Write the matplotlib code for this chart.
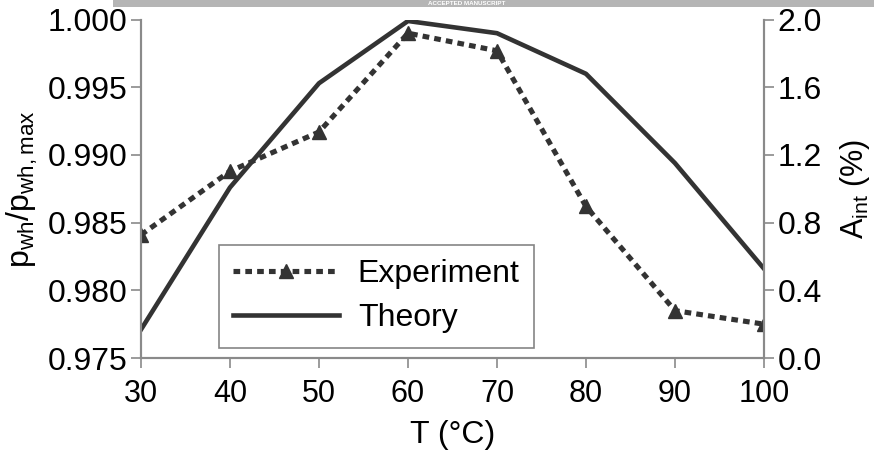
import matplotlib
matplotlib.use("Agg")
import matplotlib.pyplot as plt
from matplotlib.patches import Rectangle

plt.rcParams['font.family'] = ['Liberation Sans', 'DejaVu Sans']
plt.rcParams['mathtext.fontset'] = 'custom'
plt.rcParams['mathtext.rm'] = 'Liberation Sans'

temperature = [30, 40, 50, 60, 70, 80, 90, 100]
experiment = [0.9841, 0.9888, 0.9917, 0.9990, 0.9977, 0.9862, 0.9785, 0.9775]
theory = [0.9771, 0.9876, 0.9953, 0.9999, 0.9990, 0.9960, 0.9894, 0.9816]
left_ticks = [0.975, 0.980, 0.985, 0.990, 0.995, 1.000]
right_ticks = [0.0, 0.4, 0.8, 1.2, 1.6, 2.0]

line_col = '#333333'
axis_col = '#8a8a8a'

fig = plt.figure(figsize=(8.74, 4.57), dpi=100)
ax = fig.add_axes([0.1613, 0.2166, 0.7128, 0.7404])

ax.plot(temperature, experiment, linestyle=(0, (1.3, 1.0)), linewidth=3.7,
        color=line_col, marker='^', markersize=9.5, dash_capstyle='butt',
        label='Experiment')
ax.plot(temperature, theory, linestyle='-', linewidth=3.3, color=line_col,
        label='Theory')

ax.set_xlim(30, 100)
ax.set_ylim(0.975, 1.000)
ax.set_xticks(temperature)
ax.set_yticks(left_ticks)
ax.set_yticklabels([f"{t:.3f}" for t in left_ticks])
ax.tick_params(axis='y', labelsize=23, color=axis_col, length=7, width=1.2, pad=3)
ax.tick_params(axis='x', labelsize=22, color=axis_col, length=7, width=1.2, pad=8)

for s in ['left', 'bottom', 'right']:
    ax.spines[s].set_color(axis_col)
    ax.spines[s].set_linewidth(1.5)
ax.spines['top'].set_visible(False)

ax.set_xlabel('T (°C)', fontsize=23, labelpad=8)
ax.set_ylabel('p$_\\mathregular{wh}$/p$_\\mathregular{wh,max}$', fontsize=23, labelpad=5)

ax2 = ax.twinx()
ax2.set_ylim(0.0, 2.0)
ax2.set_yticks(right_ticks)
ax2.set_yticklabels([f"{t:.1f}" for t in right_ticks])
ax2.tick_params(axis='y', labelsize=23, color=axis_col, length=7, width=1.2, pad=3)
for s in ['left', 'bottom', 'right']:
    ax2.spines[s].set_color(axis_col)
    ax2.spines[s].set_linewidth(1.5)
ax2.spines['top'].set_visible(False)
ax2.set_ylabel('A$_\\mathregular{int}$ (%)', fontsize=22, labelpad=11)

leg = ax.legend(loc='lower left', bbox_to_anchor=(0.125, 0.03), borderaxespad=0,
                fontsize=23, handlelength=3.3, frameon=True, fancybox=False,
                borderpad=0.45, labelspacing=0.45, handletextpad=0.6)
leg.get_frame().set_edgecolor('#666666')
leg.get_frame().set_linewidth(1.2)

# watermark bar at top
bar = Rectangle((113 / 874, 1 - 7 / 457), 1, 7 / 457, transform=fig.transFigure,
                facecolor='#b5b5b5', edgecolor='none', zorder=0)
fig.patches.append(bar)
fig.text(0.49, 1 - 3.5 / 457, 'ACCEPTED MANUSCRIPT', color='white', fontsize=4.5,
         fontweight='bold', va='center', ha='left', zorder=1)

fig.savefig('out.png', dpi=100)
